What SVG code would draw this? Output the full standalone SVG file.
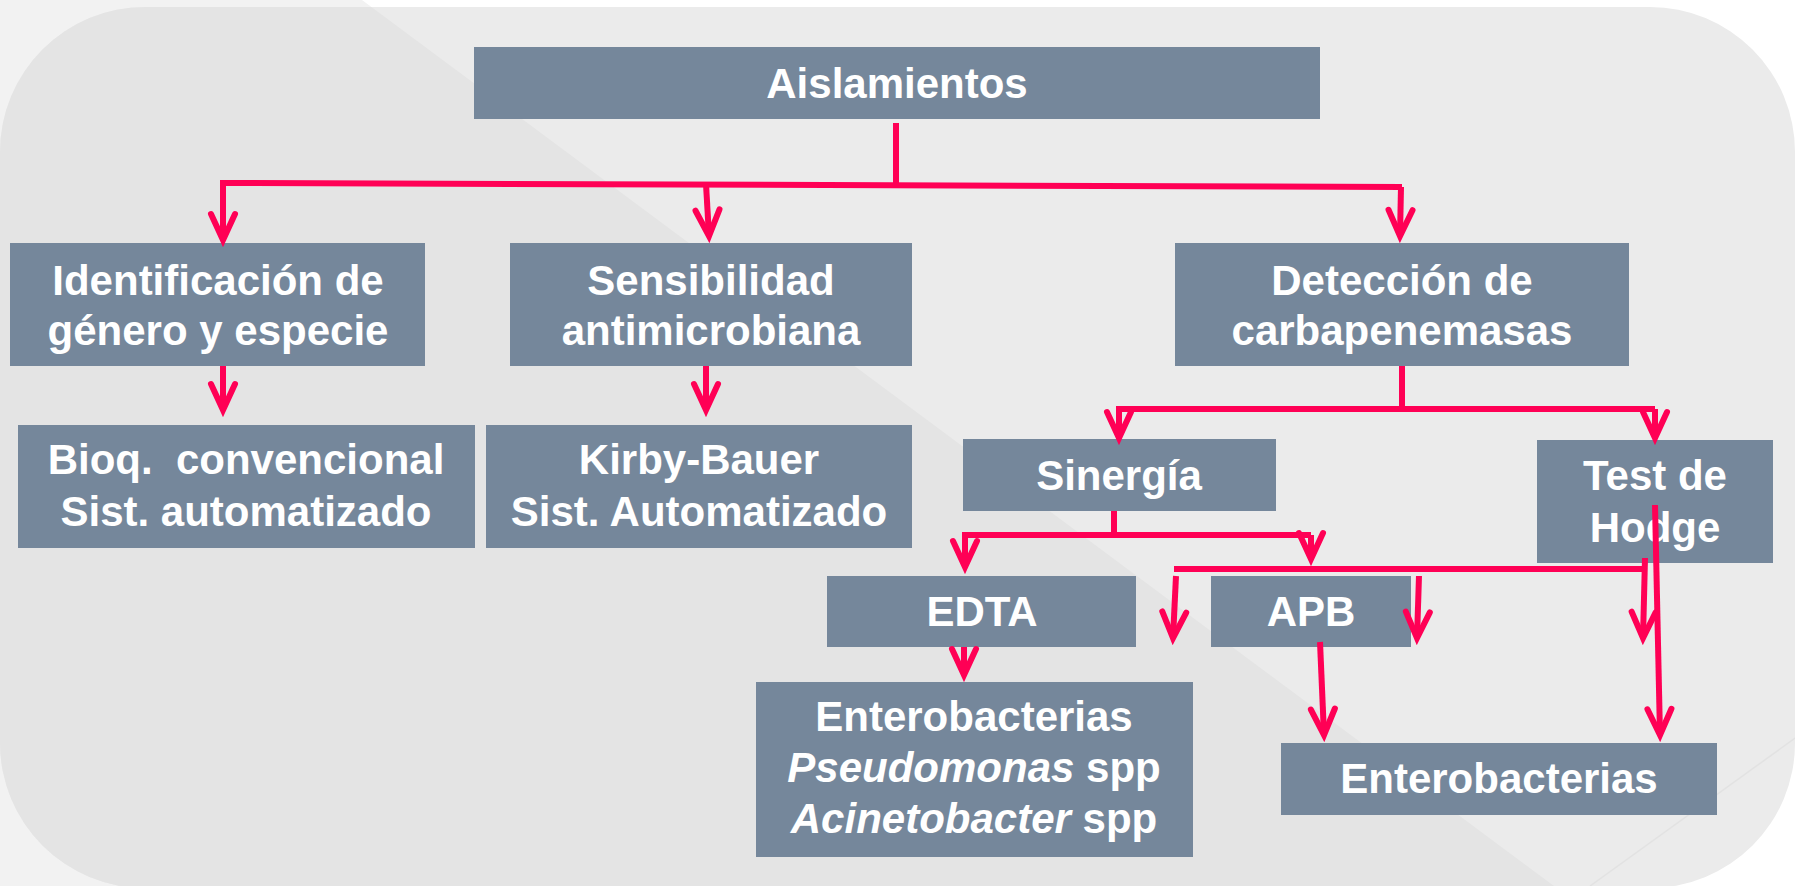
<svg xmlns="http://www.w3.org/2000/svg" width="1798" height="886" viewBox="0 0 1798 886">
<defs>
<style>
.box{fill:#75879b}
.t{font-family:"Liberation Sans",Arial,sans-serif;font-weight:bold;font-size:42px;fill:#ffffff;text-anchor:middle}
.c{fill:none;stroke:#ff0055;stroke-width:6;stroke-linejoin:miter}
.a{marker-end:url(#arr)}
</style>
<marker id="arr" markerUnits="userSpaceOnUse" markerWidth="80" markerHeight="80" refX="0" refY="0" orient="auto" overflow="visible">
<path d="M-26,-12 L0,0 L-26,12" fill="none" stroke="#ff0055" stroke-width="6" stroke-linecap="round" stroke-linejoin="miter" stroke-miterlimit="10"/>
</marker>
<clipPath id="bgclip"><rect x="0" y="7" width="1795" height="881" rx="145" ry="145"/></clipPath>
</defs>
<rect x="0" y="0" width="1798" height="886" fill="#ffffff"/>
<polygon points="0,0 362,0 1554,886 0,886" fill="#f2f2f2"/>
<rect x="0" y="7" width="1795" height="881" rx="145" ry="145" fill="#ebebeb"/>
<g clip-path="url(#bgclip)">
<polygon points="0,0 362,0 1554,886 0,886" fill="#e4e4e4"/>
<line x1="1590" y1="886" x2="1798" y2="736" stroke="#e2e2e2" stroke-width="1.5"/>
</g>

<g id="n-aislamientos"><rect class="box" x="474" y="47" width="846" height="72"/><text class="t" x="897" y="98">Aislamientos</text></g>
<g id="n-identificacion"><rect class="box" x="10" y="243" width="415" height="123"/><text class="t" x="218" y="295">Identificación de</text><text class="t" x="218" y="345">género y especie</text></g>
<g id="n-sensibilidad"><rect class="box" x="510" y="243" width="402" height="123"/><text class="t" x="711" y="295">Sensibilidad</text><text class="t" x="711" y="345">antimicrobiana</text></g>
<g id="n-deteccion"><rect class="box" x="1175" y="243" width="454" height="123"/><text class="t" x="1402" y="295">Detección de</text><text class="t" x="1402" y="345">carbapenemasas</text></g>
<g id="n-bioq"><rect class="box" x="18" y="425" width="457" height="123"/><text class="t" x="246" y="474" style="white-space:pre">Bioq.  convencional</text><text class="t" x="246" y="526">Sist. automatizado</text></g>
<g id="n-kirby"><rect class="box" x="486" y="425" width="426" height="123"/><text class="t" x="699" y="474">Kirby-Bauer</text><text class="t" x="699" y="526">Sist. Automatizado</text></g>
<g id="n-sinergia"><rect class="box" x="963" y="439" width="313" height="72"/><text class="t" x="1119" y="490">Sinergía</text></g>
<g id="n-hodge"><rect class="box" x="1537" y="440" width="236" height="123"/><text class="t" x="1655" y="490">Test de</text><text class="t" x="1655" y="542">Hodge</text></g>
<g id="n-edta"><rect class="box" x="827" y="576" width="309" height="71"/><text class="t" x="982" y="626">EDTA</text></g>
<g id="n-apb"><rect class="box" x="1211" y="576" width="200" height="71"/><text class="t" x="1311" y="626">APB</text></g>
<g id="n-entero1"><rect class="box" x="756" y="682" width="437" height="175"/><text class="t" x="974" y="731">Enterobacterias</text><text class="t" x="974" y="782"><tspan font-style="italic">Pseudomonas</tspan> spp</text><text class="t" x="974" y="833"><tspan font-style="italic">Acinetobacter</tspan> spp</text></g>
<g id="n-entero2"><rect class="box" x="1281" y="743" width="436" height="72"/><text class="t" x="1499" y="793">Enterobacterias</text></g>

<g id="connectors">
<path class="c" d="M896,123 L896,187"/>
<path class="c a" d="M1402,187 L223,183 L223,240"/>
<path class="c a" d="M706,184 L709,236"/>
<path class="c a" d="M1401,187 L1400,236"/>
<path class="c a" d="M223,366 L223,410"/>
<path class="c a" d="M706,366 L706,410"/>
<path class="c" d="M1402,366 L1402,409"/>
<path class="c a" d="M1655,409 L1119,409 L1119,438"/>
<path class="c a" d="M1655,409 L1655,438"/>
<path class="c" d="M1114,511 L1114,535"/>
<path class="c a" d="M1311,535 L965,535 L965,567"/>
<path class="c a" d="M1311,535 L1311,559"/>
<path class="c a" d="M964,647 L964,675"/>
<path class="c" d="M1174,569 L1645,569"/>
<path class="c a" d="M1645,558 L1643,638"/>
<path class="c a" d="M1176,576 L1173,638"/>
<path class="c a" d="M1419,576 L1417,638"/>
<path class="c a" d="M1655,505 L1660,735"/>
<path class="c a" d="M1320,642 L1324,735"/>
</g>
</svg>
